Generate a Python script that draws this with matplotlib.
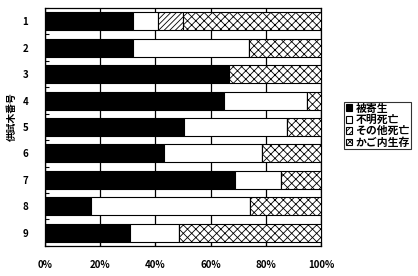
import matplotlib.pyplot as plt
import numpy as np

plt.rcParams['font.family'] = ['Noto Sans CJK JP', 'DejaVu Sans']
plt.rcParams['hatch.linewidth'] = 0.6

trees = ['1', '2', '3', '4', '5', '6', '7', '8', '9']
series = ['被寄生', '不明死亡', 'その他死亡', 'かご内生存']
parasitized = [32, 31.8, 66.8, 64.7, 50.2, 43, 68.7, 16.5, 30.6]
unknown_dead = [9, 42.2, 0, 30.1, 37.5, 35.6, 16.8, 57.8, 17.9]
other_dead = [9, 0, 0, 0, 0, 0, 0, 0, 0]
alive = [50, 26, 33.2, 5.2, 12.3, 21.4, 14.5, 25.7, 51.5]
xticks = [0, 20, 40, 60, 80, 100]

colors = ['black', 'white', 'white', 'white']
hatches = [None, None, '//////', 'xxxx']

fig = plt.figure(figsize=(4.18, 2.76), dpi=100)
ax = fig.add_axes([0.108, 0.109, 0.66, 0.862])

y = np.arange(len(trees))
left = np.zeros(len(trees))
for vals, c, h, name in zip([parasitized, unknown_dead, other_dead, alive],
                            colors, hatches, series):
    ax.barh(y, vals, left=left, height=0.68, color=c, edgecolor='black',
            linewidth=0.8, hatch=h, label=name, zorder=3)
    left += np.array(vals)

ax.set_xlim(0, 100)
ax.set_ylim(len(trees) - 0.5, -0.5)
ax.set_yticks(y)
ax.set_yticklabels(trees, fontsize=7, fontweight='bold')
ax.set_yticks(np.arange(-0.5, len(trees)), minor=True)
ax.tick_params(axis='y', which='major', length=0, pad=12)
ax.tick_params(axis='y', which='minor', length=3, direction='in', width=0.8)
ax.set_xticks(xticks)
ax.set_xticklabels([f'{v}%' for v in xticks], fontsize=7, fontweight='bold')
ax.tick_params(axis='x', length=3, direction='in', width=0.8, pad=10)
ax.xaxis.grid(True, color='black', linewidth=0.9, zorder=0)
ax.set_axisbelow(True)
for s in ax.spines.values():
    s.set_linewidth(0.9)

fig.text(12 / 418, 1 - 117 / 276, '供試木番号', rotation=90, ha='center',
         va='center', fontsize=7, fontweight='bold')

leg = ax.legend(loc='center left', bbox_to_anchor=(1.083, 0.505), fontsize=7.8,
                frameon=True, fancybox=False, edgecolor='black',
                handlelength=0.6, handleheight=0.6, handletextpad=0.3,
                borderpad=0.15, labelspacing=0.1, borderaxespad=0)
leg.get_frame().set_linewidth(0.8)
for t in leg.get_texts():
    t.set_fontweight('bold')

fig.savefig('out.png', dpi=100)
